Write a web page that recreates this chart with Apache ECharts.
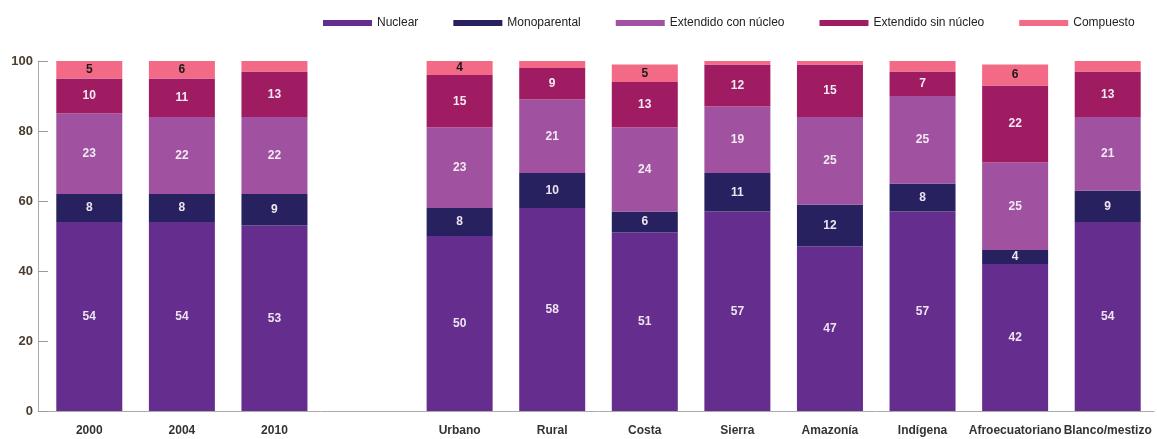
<!DOCTYPE html>
<html>
<head>
<meta charset="utf-8">
<script src="https://cdn.jsdelivr.net/npm/echarts@6/dist/echarts.min.js"></script>
<style>
  html, body { margin: 0; padding: 0; background: #fff; }
  #chart { width: 1157px; height: 439px; }
</style>
</head>
<body>
<div id="chart"></div>
<script>
// categories ('' is the empty slot between the years and the groups)
let categories = ['2000', '2004', '2010', '', 'Urbano', 'Rural', 'Costa', 'Sierra', 'Amazonía', 'Indígena', 'Afroecuatoriano', 'Blanco/mestizo']
let seriesNames = ['Nuclear', 'Monoparental', 'Extendido con núcleo', 'Extendido sin núcleo', 'Compuesto']

let nuclear = [54, 54, 53, '-', 50, 58, 51, 57, 47, 57, 42, 54]
let monoparental = [8, 8, 9, '-', 8, 10, 6, 11, 12, 8, 4, 9]
let extendidoCon = [23, 22, 22, '-', 23, 21, 24, 19, 25, 25, 25, 21]
let extendidoSin = [10, 11, 13, '-', 15, 9, 13, 12, 15, 7, 22, 13]
let compuesto = [5, 6, 3, '-', 4, 2, 5, 1, 1, 3, 6, 3]

let yTicks = { min: 0, max: 100, interval: 20 }

let colors = ['#652d8e', '#27215f', '#a052a0', '#a01c62', '#f26a85']
let font = 'Liberation Sans, Arial, sans-serif'

function makeSeries(name, data, color, labelColor) {
  return {
    name: name,
    type: 'bar',
    stack: 'total',
    barWidth: 66,
    data: data,
    itemStyle: { color: color },
    label: {
      show: true,
      position: 'inside',
      color: labelColor,
      fontFamily: font,
      fontWeight: 'bold',
      fontSize: 12,
      formatter: function (p) {
        // small segments carry no number in the original
        return p.value >= 4 ? p.value : ''
      }
    }
  }
}

let option = {
  backgroundColor: '#fff',
  animation: false,
  legend: {
    data: seriesNames,
    left: 318,
    top: 12,
    icon: 'rect',
    itemWidth: 49,
    itemHeight: 6,
    itemGap: 35,
    textStyle: { fontFamily: font, fontSize: 12, color: '#222' }
  },
  grid: { left: 43, right: 3, top: 61, bottom: 28 },
  xAxis: {
    type: 'category',
    data: categories,
    axisLine: { lineStyle: { color: '#aaa', width: 1 } },
    axisTick: { inside: true, length: 8, lineStyle: { color: '#888' } },
    axisLabel: { margin: 14, fontFamily: font, fontWeight: 'bold', fontSize: 12, color: '#333', interval: 0 }
  },
  yAxis: {
    type: 'value',
    min: yTicks.min,
    max: yTicks.max,
    interval: yTicks.interval,
    offset: 5,
    splitLine: { show: false },
    axisLine: { show: true, lineStyle: { color: '#aaa', width: 1 } },
    axisTick: { show: true, inside: true, length: 10, lineStyle: { color: '#999' } },
    axisLabel: { margin: 5, fontFamily: font, fontWeight: 'bold', fontSize: 13, color: '#4a3d30' }
  },
  series: [
    makeSeries(seriesNames[0], nuclear, colors[0], '#eee4f0'),
    makeSeries(seriesNames[1], monoparental, colors[1], '#eee4f0'),
    makeSeries(seriesNames[2], extendidoCon, colors[2], '#f3eaf3'),
    makeSeries(seriesNames[3], extendidoSin, colors[3], '#f3eaf3'),
    makeSeries(seriesNames[4], compuesto, colors[4], '#1a1a1a')
  ]
}

let myChart = echarts.init(document.getElementById('chart'))
myChart.setOption(option)
</script>
</body>
</html>
